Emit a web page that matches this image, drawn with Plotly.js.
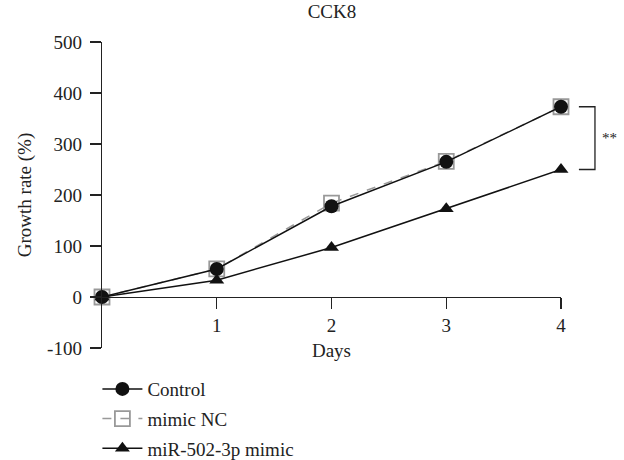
<!DOCTYPE html>
<html>
<head>
<meta charset="utf-8">
<script src="https://cdn.plot.ly/plotly-3.0.1.min.js"></script>
<style>html,body{margin:0;padding:0;background:#fff}</style>
</head>
<body>
<div id="chart" style="width:624px;height:460px"></div>
<script>
const days = [0, 1, 2, 3, 4];
const controlVals = [0, 55, 178, 265, 373];
const mimicNCVals = [0, 55, 184, 266, 373];
const mirVals = [0, 33, 97, 173, 250];
const seriesNames = ["Control", "mimic NC", "miR-502-3p mimic"];
const xTickVals = [1, 2, 3, 4];
const yTickVals = [-100, 0, 100, 200, 300, 400, 500];
const yTickText = ["-100", "0", "100", "200", "300", "400", "500"];
const sigLabel = "**";

const FAM = "Liberation Serif, Times New Roman, serif";
const FS = 19;
const font = {family: FAM, color: "#222", size: FS};

const traces = [
  {x: days, y: mimicNCVals, name: seriesNames[1], mode: "lines+markers", legendrank: 2, legendgroup: "b", cliponaxis: false,
   line: {color: "#999", width: 1.5, dash: "dash"},
   marker: {symbol: "square-open", size: 15, color: "#999", line: {width: 1.8, color: "#999"}}},
  {x: days, y: controlVals, name: seriesNames[0], mode: "lines+markers", legendrank: 1, legendgroup: "a", cliponaxis: false,
   line: {color: "#111", width: 1.5},
   marker: {symbol: "circle", size: 14, color: "#111"}},
  {x: days, y: mirVals, name: seriesNames[2], mode: "lines+markers", legendrank: 3, legendgroup: "c", cliponaxis: false,
   line: {color: "#111", width: 1.5},
   marker: {symbol: "triangle-up", size: 13, color: "#111"}}
];

const layout = {
  width: 624, height: 460,
  margin: {l: 102, r: 63, t: 42, b: 112, autoexpand: false},
  paper_bgcolor: "#fff", plot_bgcolor: "#fff",
  font: font,
  title: {text: "CCK8", x: 0.532, xanchor: "center", y: 0.99, yanchor: "top", font: {size: FS, family: FAM, color: "#222"}},
  showlegend: true,
  legend: {x: -0.01, xanchor: "left", y: -0.072, yanchor: "top", orientation: "v",
           font: {size: FS, family: FAM, color: "#222"}, traceorder: "grouped", tracegroupgap: 2,
           itemwidth: 40},
  xaxis: {range: [0, 4], tickvals: xTickVals, ticktext: xTickVals.map(String),
          anchor: "free", position: 1/6, showline: true, linecolor: "#222", linewidth: 1.3,
          ticks: "outside", ticklen: 11, tickwidth: 1.3, tickcolor: "#222",
          showgrid: false, zeroline: false, automargin: false,
          title: {text: "Days", standoff: 8, font: {size: FS, family: FAM, color: "#222"}}},
  yaxis: {range: [-100, 500], tickvals: yTickVals, ticktext: yTickText, showline: true, linecolor: "#222", linewidth: 1.3,
          ticks: "outside", ticklen: 11, tickwidth: 1.3, tickcolor: "#222", ticklabelstandoff: 4,
          showgrid: false, zeroline: false, automargin: false,
          title: {text: "Growth rate (%)", standoff: 10, font: {size: FS, family: FAM, color: "#222"}}},
  shapes: [
    {type: "path", xref: "paper", yref: "y",
     path: `M 1.039 ${controlVals[4]} L 1.074 ${controlVals[4]} L 1.074 ${mirVals[4]} L 1.039 ${mirVals[4]}`,
     line: {color: "#222", width: 1.3}}
  ],
  annotations: [
    {xref: "paper", yref: "y", x: 1.086, y: (controlVals[4] + mirVals[4]) / 2, text: sigLabel,
     showarrow: false, xanchor: "left", yanchor: "middle", font: {size: 15, family: FAM, color: "#222"}}
  ]
};

Plotly.newPlot("chart", traces, layout, {displayModeBar: false, staticPlot: true});
</script>
</body>
</html>
